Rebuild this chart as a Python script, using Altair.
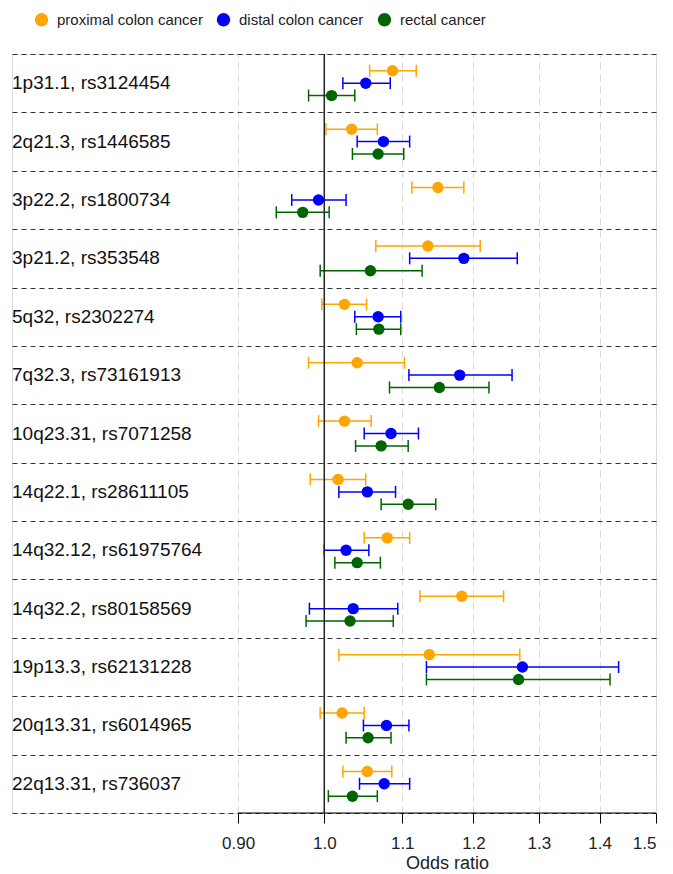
import altair as alt
import pandas as pd

snps = ["1p31.1, rs3124454", "2q21.3, rs1446585", "3p22.2, rs1800734", "3p21.2, rs353548",
        "5q32, rs2302274", "7q32.3, rs73161913", "10q23.31, rs7071258", "14q22.1, rs28611105",
        "14q32.12, rs61975764", "14q32.2, rs80158569", "19p13.3, rs62131228",
        "20q13.31, rs6014965", "22q13.31, rs736037"]

series = ["proximal colon cancer", "distal colon cancer", "rectal cancer"]
colors = ["orange", "#0000ff", "#006400"]

prox_or = [1.087, 1.034, 1.149, 1.135, 1.025, 1.041, 1.025, 1.017, 1.080, 1.183, 1.137, 1.022, 1.054]
prox_lo = [1.057, 1.002, 1.113, 1.065, 0.997, 0.981, 0.993, 0.983, 1.050, 1.124, 1.018, 0.995, 1.023]
prox_hi = [1.119, 1.067, 1.186, 1.210, 1.053, 1.103, 1.059, 1.052, 1.110, 1.245, 1.270, 1.050, 1.086]

dist_or = [1.052, 1.075, 0.993, 1.186, 1.068, 1.180, 1.085, 1.054, 1.027, 1.036, 1.274, 1.079, 1.076]
dist_lo = [1.023, 1.041, 0.961, 1.110, 1.038, 1.109, 1.050, 1.018, 1.000, 0.982, 1.133, 1.049, 1.044]
dist_hi = [1.084, 1.110, 1.027, 1.266, 1.098, 1.258, 1.122, 1.091, 1.056, 1.094, 1.433, 1.109, 1.110]

rect_or = [1.009, 1.068, 0.974, 1.058, 1.069, 1.151, 1.072, 1.108, 1.041, 1.032, 1.268, 1.055, 1.035]
rect_lo = [0.981, 1.035, 0.943, 0.995, 1.040, 1.083, 1.039, 1.072, 1.013, 0.978, 1.133, 1.027, 1.005]
rect_hi = [1.038, 1.102, 1.006, 1.127, 1.098, 1.223, 1.108, 1.146, 1.071, 1.088, 1.418, 1.085, 1.067]

tick_values = [0.9, 1.0, 1.1, 1.2, 1.3, 1.4, 1.5]

rows = []
for s, (o, l, h) in zip(series, [(prox_or, prox_lo, prox_hi), (dist_or, dist_lo, dist_hi), (rect_or, rect_lo, rect_hi)]):
    for i, snp in enumerate(snps):
        rows.append({"snp": snp, "series": s, "or": o[i], "lo": l[i], "hi": h[i]})
df = pd.DataFrame(rows)
labels_df = pd.DataFrame({"snp": snps})

FONT = "Liberation Sans"
W, H = 644, 759

xscale = alt.Scale(type="log", domain=[0.6827, 1.5], nice=False, zero=False)
xaxis = alt.Axis(values=tick_values, grid=True, gridDash=[7, 5], gridColor="#d9d9d9", gridWidth=1,
                 domain=False, tickSize=10, tickColor="black", tickWidth=1,
                 labelFontSize=17, labelColor="#222", labelPadding=12, labelFont=FONT,
                 labelExpr="datum.value == 0.9 ? '0.90' : format(datum.value, '.1f')",
                 title="Odds ratio", titleX=435, titleFontSize=18, titleFontWeight="normal",
                 titleColor="#222", titlePadding=3, titleFont=FONT)


def X(field):
    return alt.X(field, type="quantitative", scale=xscale, axis=xaxis)


y = alt.Y("snp:N", sort=snps, scale=alt.Scale(domain=snps, paddingInner=0, paddingOuter=0),
          axis=alt.Axis(grid=True, tickBand="extent", gridDash=[5, 4], gridColor="#333", gridWidth=1.2,
                        ticks=False, labels=False, domain=False, title=None))
yoff = alt.YOffset("series:N", sort=series, scale=alt.Scale(domain=series, paddingOuter=0.855, paddingInner=0))
cscale = alt.Scale(domain=series, range=colors)
# error-bar scales list the same categories in reverse order so their (hidden) legends stay separate
bar_scale = alt.Scale(domain=series[::-1], range=colors[::-1])

base = alt.Chart(df)

rules = base.mark_rule(strokeWidth=1.5).encode(
    x=X("lo"), x2="hi", y=y, yOffset=yoff,
    stroke=alt.Stroke("series:N", scale=bar_scale, legend=None))
ticks_lo = base.mark_tick(thickness=1.5, size=12, opacity=1).encode(
    x=X("lo"), y=y, yOffset=yoff,
    fill=alt.Fill("series:N", scale=bar_scale, legend=None))
ticks_hi = base.mark_tick(thickness=1.5, size=12, opacity=1).encode(
    x=X("hi"), y=y, yOffset=yoff,
    fill=alt.Fill("series:N", scale=bar_scale, legend=None))
points = base.mark_point(filled=True, opacity=1, size=130).encode(
    x=X("or"), y=y, yOffset=yoff,
    color=alt.Color("series:N", scale=cscale, sort=series,
                    legend=alt.Legend(orient="none", legendX=22, legendY=-42, direction="horizontal",
                                      title=None, labelFontSize=15, labelFont=FONT, labelColor="#222",
                                      symbolType="circle", symbolSize=180, labelOffset=8,
                                      columnPadding=13, padding=0)))

vline = alt.Chart(pd.DataFrame({"v": [1.0]})).mark_rule(color="#222", strokeWidth=1.5).encode(
    x=X("v"))
axis_line = alt.Chart(pd.DataFrame({"a": [tick_values[0]], "b": [tick_values[-1]]})).mark_rule(
    color="black", strokeWidth=1).encode(x=X("a"), x2="b", y=alt.value(H))

labels = alt.Chart(labels_df).mark_text(align="left", baseline="middle", fontSize=19, font=FONT,
                                         color="#111").encode(
    x=alt.value(0), y=y, text="snp:N")

chart = alt.layer(rules, ticks_lo, ticks_hi, vline, points, axis_line, labels).properties(
    width=W, height=H,
    padding={"left": 4, "top": 4, "right": 5, "bottom": 0},
).configure_view(stroke=None).configure(font=FONT)

chart.save("out.html", embed_options={"renderer": "svg", "actions": False})
